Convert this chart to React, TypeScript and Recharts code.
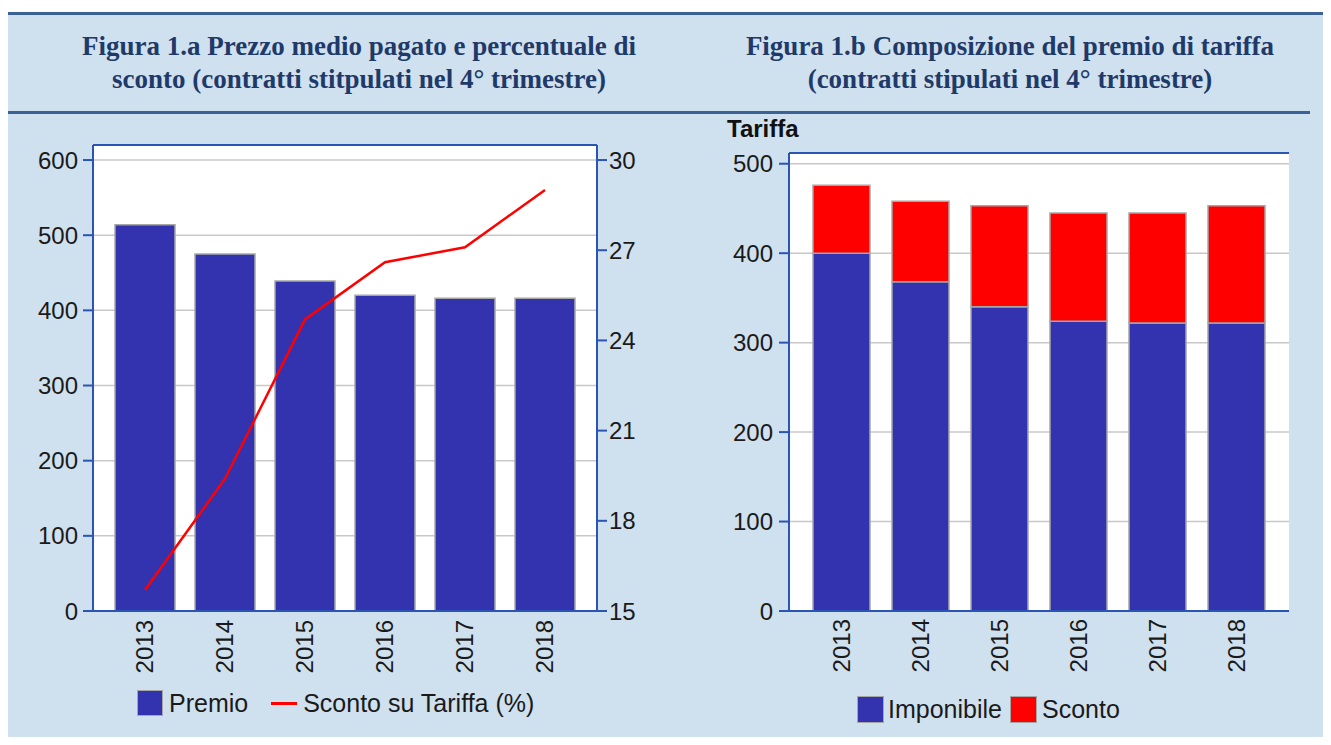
import React from "react";
import {
  Bar,
  BarChart,
  CartesianGrid,
  ComposedChart,
  Legend,
  Line,
  ReferenceLine,
  XAxis,
  YAxis,
} from "recharts";

const YEARS = ["2013", "2014", "2015", "2016", "2017", "2018"];
// Figura 1.a
const PREMIO = [514, 475, 439, 420, 416, 416];
const SCONTO_PCT = [15.7, 19.4, 24.7, 26.6, 27.1, 29.0];
// Figura 1.b
const IMPONIBILE = [400, 368, 340, 324, 322, 322];
const SCONTO = [76, 90, 113, 121, 123, 131];

const PREMIO_TICKS = [0, 100, 200, 300, 400, 500, 600];
const PCT_TICKS = [15, 18, 21, 24, 27, 30];
const TARIFFA_TICKS = [0, 100, 200, 300, 400, 500];

const BG = "#CFE0EF";
const HEAD_LINE = "#3A6294";
const TITLE = "#1F3A68";
const AXIS = "#2B55B5";
const GRID = "#C8C8C8";
const BLUE = "#3333B0";
const RED = "#FF0000";
const OUTLINE = "#A6A6A6";
const FONT = "'Liberation Sans', Arial, sans-serif";

const dataA = YEARS.map((y, i) => ({ year: y, premio: PREMIO[i], sconto: SCONTO_PCT[i] }));
const dataB = YEARS.map((y, i) => ({ year: y, imponibile: IMPONIBILE[i], sconto: SCONTO[i] }));

function YearTick(props: any) {
  const { x, y, payload } = props;
  return (
    <text
      x={x}
      y={y}
      transform={`rotate(-90, ${x}, ${y})`}
      textAnchor="end"
      dy="0.35em"
      fontSize={24}
      fill="#1A1A1A"
    >
      {payload.value}
    </text>
  );
}

const legendText: React.CSSProperties = { fontSize: 25, color: "#1A1A1A", lineHeight: "26px" };

function LegendA() {
  return (
    <div style={{ height: 36, display: "flex", alignItems: "center", paddingLeft: 137 }}>
      <span style={{ width: 24, height: 24, background: BLUE, border: `1px solid ${OUTLINE}` }} />
      <span style={{ ...legendText, marginLeft: 6 }}>Premio</span>
      <span style={{ width: 26, height: 3, background: RED, marginLeft: 23 }} />
      <span style={{ ...legendText, marginLeft: 6 }}>Sconto su Tariffa (%)</span>
    </div>
  );
}

function LegendB() {
  return (
    <div style={{ height: 36, display: "flex", alignItems: "center", paddingLeft: 197 }}>
      <span style={{ width: 25, height: 25, background: BLUE, border: `1px solid ${OUTLINE}` }} />
      <span style={{ ...legendText, marginLeft: 4 }}>Imponibile</span>
      <span style={{ width: 25, height: 25, background: RED, border: `1px solid ${OUTLINE}`, marginLeft: 8 }} />
      <span style={{ ...legendText, marginLeft: 5 }}>Sconto</span>
    </div>
  );
}

const titleStyle: React.CSSProperties = {
  position: "absolute",
  top: 30,
  textAlign: "center",
  fontFamily: "'Liberation Serif', 'Times New Roman', serif",
  fontWeight: "bold",
  fontSize: 27,
  lineHeight: "33px",
  color: TITLE,
};

export default function App() {
  return (
    <div
      style={{
        position: "relative",
        width: 1331,
        height: 745,
        margin: -8,
        background: "#FFFFFF",
        overflow: "hidden",
        fontFamily: FONT,
      }}
    >
      <div style={{ position: "absolute", left: 8, top: 12, width: 1323, height: 733, background: BG }} />
      <div style={{ position: "absolute", left: 8, top: 12, width: 1323, height: 3, background: HEAD_LINE }} />
      <div style={{ position: "absolute", left: 8, top: 111, width: 1302, height: 3, background: HEAD_LINE }} />

      <div style={{ ...titleStyle, left: 8, width: 702 }}>
        Figura 1.a Prezzo medio pagato e percentuale di
        <br />
        sconto (contratti stitpulati nel 4° trimestre)
      </div>
      <div style={{ ...titleStyle, left: 690, width: 640 }}>
        Figura 1.b Composizione del premio di tariffa
        <br />
        (contratti stipulati nel 4° trimestre)
      </div>

      <div style={{ position: "absolute", left: 0, top: 130 }}>
        <ComposedChart
          width={680}
          height={615}
          data={dataA}
          margin={{ top: 15, left: 33, right: 23, bottom: 24 }}
        >
          <CartesianGrid yAxisId="left" vertical={false} stroke={GRID} strokeWidth={1.5} fill="#FFFFFF" />
          <XAxis
            dataKey="year"
            height={74}
            padding={{ left: 12, right: 12 }}
            axisLine={{ stroke: AXIS, strokeWidth: 2 }}
            tickLine={false}
            tickSize={0}
            tickMargin={9}
            interval={0}
            tick={<YearTick />}
          />
          <YAxis
            yAxisId="left"
            width={60}
            domain={[0, 620]}
            ticks={PREMIO_TICKS}
            axisLine={{ stroke: AXIS, strokeWidth: 2 }}
            tickLine={{ stroke: AXIS, strokeWidth: 2 }}
            tickSize={10}
            tickMargin={5}
            tick={{ fontSize: 24, fill: "#1A1A1A" }}
          />
          <YAxis
            yAxisId="right"
            orientation="right"
            width={60}
            domain={[15, 30.5]}
            ticks={PCT_TICKS}
            axisLine={{ stroke: AXIS, strokeWidth: 2 }}
            tickLine={{ stroke: AXIS, strokeWidth: 2 }}
            tickSize={10}
            tickMargin={2}
            tick={{ fontSize: 24, fill: "#1A1A1A" }}
          />
          <ReferenceLine yAxisId="left" y={620} stroke={AXIS} strokeWidth={2} />
          <Bar
            yAxisId="left"
            dataKey="premio"
            name="Premio"
            barSize={60}
            fill={BLUE}
            stroke={OUTLINE}
            strokeWidth={1.5}
            isAnimationActive={false}
          />
          <Line
            yAxisId="right"
            dataKey="sconto"
            name="Sconto su Tariffa (%)"
            type="linear"
            stroke={RED}
            strokeWidth={2.5}
            dot={false}
            isAnimationActive={false}
          />
          <Legend verticalAlign="bottom" wrapperStyle={{ left: 0, width: 680 }} content={() => <LegendA />} />
        </ComposedChart>
      </div>

      <div
        style={{
          position: "absolute",
          left: 727,
          top: 117,
          fontSize: 24,
          lineHeight: "24px",
          fontWeight: "bold",
          color: "#111111",
        }}
      >
        Tariffa
      </div>

      <div style={{ position: "absolute", left: 660, top: 130 }}>
        <BarChart
          width={671}
          height={615}
          data={dataB}
          margin={{ top: 23, left: 59, right: 42, bottom: 18 }}
        >
          <CartesianGrid vertical={false} stroke={GRID} strokeWidth={1.5} fill="#FFFFFF" />
          <XAxis
            dataKey="year"
            height={80}
            padding={{ left: 13, right: 13 }}
            axisLine={{ stroke: AXIS, strokeWidth: 2 }}
            tickLine={false}
            tickSize={0}
            tickMargin={8}
            interval={0}
            tick={<YearTick />}
          />
          <YAxis
            width={70}
            domain={[0, 512]}
            ticks={TARIFFA_TICKS}
            axisLine={{ stroke: AXIS, strokeWidth: 2 }}
            tickLine={{ stroke: AXIS, strokeWidth: 2 }}
            tickSize={10}
            tickMargin={6}
            tick={{ fontSize: 24, fill: "#1A1A1A" }}
          />
          <YAxis
            yAxisId="frame"
            orientation="right"
            width={0}
            domain={[0, 512]}
            tick={false}
            tickLine={false}
            axisLine={{ stroke: AXIS, strokeWidth: 2 }}
          />
          <ReferenceLine y={512} stroke={AXIS} strokeWidth={2} />
          <Bar
            dataKey="imponibile"
            name="Imponibile"
            stackId="t"
            barSize={57}
            fill={BLUE}
            stroke={OUTLINE}
            strokeWidth={1.5}
            isAnimationActive={false}
          />
          <Bar
            dataKey="sconto"
            name="Sconto"
            stackId="t"
            barSize={57}
            fill={RED}
            stroke={OUTLINE}
            strokeWidth={1.5}
            isAnimationActive={false}
          />
          <Legend verticalAlign="bottom" wrapperStyle={{ left: 0, width: 671 }} content={() => <LegendB />} />
        </BarChart>
      </div>
    </div>
  );
}
